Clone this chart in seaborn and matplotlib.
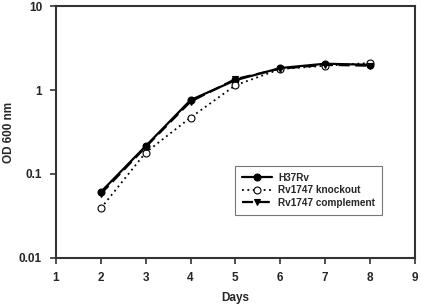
import matplotlib
matplotlib.use("Agg")
import matplotlib.pyplot as plt
import seaborn as sns
import pandas as pd
from matplotlib.ticker import FixedLocator, FixedFormatter, NullLocator

days = [2, 3, 4, 5, 6, 7, 8]
h37rv = [0.061, 0.215, 0.76, 1.31, 1.83, 2.06, 2.0]
knockout = [0.039, 0.18, 0.47, 1.14, 1.78, 1.95, 2.1]
complement = [0.058, 0.21, 0.73, 1.35, 1.80, 2.0, 1.95]
series_names = ["H37Rv", "Rv1747 knockout", "Rv1747 complement"]
x_ticks = [1, 2, 3, 4, 5, 6, 7, 8, 9]
y_ticks = [0.01, 0.1, 1, 10]
y_tick_labels = ["0.01", "0.1", "1", "10"]

df = pd.DataFrame({
    "Days": days * 3,
    "OD": h37rv + knockout + complement,
    "Strain": sum([[n] * len(days) for n in series_names], []),
})

sns.set_style("ticks")
plt.rcParams["font.family"] = ["Liberation Sans", "DejaVu Sans"]
plt.rcParams["font.weight"] = "bold"

fig = plt.figure(figsize=(4.22, 3.07), dpi=100)
ax = fig.add_axes([0.1327, 0.160, 0.8503, 0.820])

styles = {
    "H37Rv": dict(ls="-", marker="o", mfc="black", lw=1.6, ms=5),
    "Rv1747 knockout": dict(ls=(0, (1, 2)), marker="o", mfc="white", lw=1.3, ms=5),
    "Rv1747 complement": dict(ls=(0, (5, 2.5)), marker="v", mfc="black", lw=1.6, ms=5),
}
for name in series_names:
    st = styles[name]
    sub = df[df["Strain"] == name]
    sns.lineplot(data=sub, x="Days", y="OD", ax=ax, color="black",
                 linestyle=st["ls"], marker=st["marker"], markerfacecolor=st["mfc"],
                 markeredgecolor="black", markersize=st["ms"], linewidth=st["lw"],
                 label=name, markeredgewidth=0.8)

ax.set_yscale("log")
ax.set_xlim(1, 9)
ax.set_ylim(0.01, 10)
ax.xaxis.set_major_locator(FixedLocator(x_ticks))
ax.set_xticklabels([str(t) for t in x_ticks])
ax.yaxis.set_major_locator(FixedLocator(y_ticks))
ax.yaxis.set_major_formatter(FixedFormatter(y_tick_labels))
ax.yaxis.set_minor_locator(NullLocator())
ax.tick_params(axis="both", which="major", direction="out", length=4, width=1.2,
               color="#333333", labelsize=8.5, pad=6)
for lab in ax.get_xticklabels() + ax.get_yticklabels():
    lab.set_fontweight("bold")
for s in ax.spines.values():
    s.set_color("#333333")
    s.set_linewidth(1.5)
    s.set_visible(True)

ax.set_xlabel("Days", fontsize=8.5, fontweight="bold")
ax.set_ylabel("OD 600 nm", fontsize=8.5, fontweight="bold")
ax.xaxis.set_label_coords(0.5, -0.135)
ax.yaxis.set_label_coords(-0.113, 0.5)

leg = ax.legend(loc="upper left", bbox_to_anchor=(0.50, 0.365), borderaxespad=0,
                fontsize=7.2, frameon=True, fancybox=False, edgecolor="#555555",
                handlelength=3, borderpad=0.7, labelspacing=0.25, handletextpad=0.6)
leg.get_frame().set_linewidth(0.8)
for t in leg.get_texts():
    t.set_fontweight("bold")

fig.savefig("out.png", dpi=100)
